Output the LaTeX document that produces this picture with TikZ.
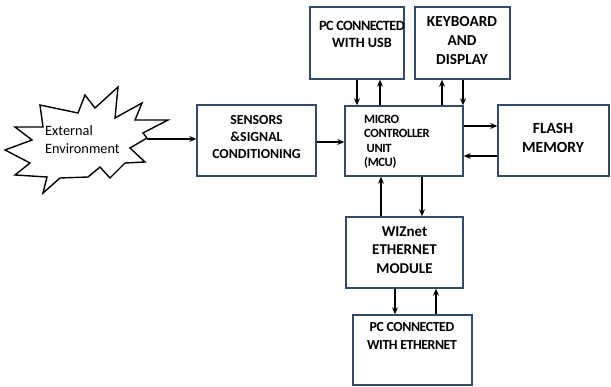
\documentclass[tikz,border=0pt]{standalone}
\usepackage{fontspec}
\setmainfont{Carlito}
\usetikzlibrary{arrows.meta}
\definecolor{boxline}{rgb}{0.20,0.29,0.42}
\tikzset{
  blk/.style={draw=boxline, line width=1.5pt, fill=white, inner sep=0pt},
  lbl/.style={font=\bfseries, align=center, inner sep=0pt},
  arr/.style={-{Stealth[length=7pt,width=6pt]}, line width=1.5pt, black},
}
\newcommand{\blkbox}[5]{% name, x1, y1, x2, y2
  \node[blk, minimum width={#4-#2}, minimum height={#5-#3}] (#1) at ({(#2+#4)/2},{(#3+#5)/2}) {};}
\begin{document}
\begin{tikzpicture}[x=1pt,y=-1pt]
\useasboundingbox[fill=white] (0,0) rectangle (611,387);

% blocks
\blkbox{usb}{310}{7}{404}{79}
\blkbox{kbd}{415}{7}{510}{79}
\blkbox{sen}{197}{105}{316}{176}
\blkbox{mcu}{345}{106}{463}{176}
\blkbox{fla}{498}{105}{609}{176}
\blkbox{wiz}{346}{217}{463}{288}
\blkbox{eth}{353}{315}{472}{385}

% block texts
\node[lbl, font=\bfseries\fontsize{14.2}{17}\selectfont, anchor=north] (usbtxt) at (362,21) {\addfontfeature{LetterSpace=-4}PC CONNECTED\\WITH USB};
\node[lbl, font=\bfseries\fontsize{15.3}{19}\selectfont, anchor=north] (kbdtxt) at (462,16) {KEYBOARD\\AND\\DISPLAY};
\node[lbl, font=\bfseries\fontsize{13.8}{17}\selectfont] (sentxt) at (256.5,137.5) {SENSORS\\\&SIGNAL\\CONDITIONING};
\node[lbl, align=left, font=\bfseries\fontsize{12.6}{14.5}\selectfont, anchor=north west] (mcutxt) at (364,115) {\addfontfeature{LetterSpace=-3}MICRO\\\addfontfeature{LetterSpace=-3}CONTROLLER\\\addfontfeature{LetterSpace=-3}\ UNIT\\\addfontfeature{LetterSpace=-3}(MCU)};
\node[lbl, font=\bfseries\fontsize{15.5}{19}\selectfont] (flatxt) at (553,138) {FLASH\\MEMORY};
\node[lbl, font=\bfseries\fontsize{15}{18.5}\selectfont] (wiztxt) at (404.5,250) {WIZnet\\ETHERNET\\MODULE};
\node[lbl, font=\bfseries\fontsize{13.8}{18}\selectfont, anchor=north] (ethtxt) at (412,322) {\addfontfeature{LetterSpace=-3}PC CONNECTED\\\addfontfeature{LetterSpace=-3}WITH ETHERNET};

% external environment burst
\draw[line width=1.4pt, fill=white, line join=miter]
  (15,127) -- (43,127) -- (40,105) -- (78,113) -- (85,95) -- (95,108) --
  (118,87) -- (115,118) -- (142,103) -- (135,120) -- (168,120) -- (143,133) --
  (147,138) -- (130,148) -- (145,162) -- (125,163) -- (110,178) -- (100,167) --
  (88,177) -- (60,178) -- (43,193) -- (47,177) -- (15,175) -- (30,163) --
  (5,150) -- (32,140) -- cycle;
\coordinate (burst) at (147,139);
\node[align=left, inner sep=0pt, anchor=north west, font=\fontsize{14.3}{18}\selectfont] (envtxt) at (45,125) {External\\Environment};

% connectors
\draw[arr] (burst) -- (sen.west |- burst);
\draw[arr] (sen.east |- 0,142) -- (mcu.west |- 0,142);
\draw[arr] (usb.south -| 357,0) -- (mcu.north -| 357,0);
\draw[arr] (mcu.north -| 380,0) -- (usb.south -| 380,0);
\draw[arr] (mcu.north -| 442,0) -- (kbd.south -| 442,0);
\draw[arr] (kbd.south -| 463,0) -- (mcu.north -| 463,0);
\draw[arr] (mcu.east |- 0,126) -- (fla.west |- 0,126);
\draw[arr] (fla.west |- 0,156) -- (mcu.east |- 0,156);
\draw[arr] (wiz.north -| 381,0) -- (mcu.south -| 381,0);
\draw[arr] (mcu.south -| 422,0) -- (wiz.north -| 422,0);
\draw[arr] (wiz.south -| 395,0) -- (eth.north -| 395,0);
\draw[arr] (eth.north -| 436,0) -- (wiz.south -| 436,0);
\end{tikzpicture}
\end{document}
